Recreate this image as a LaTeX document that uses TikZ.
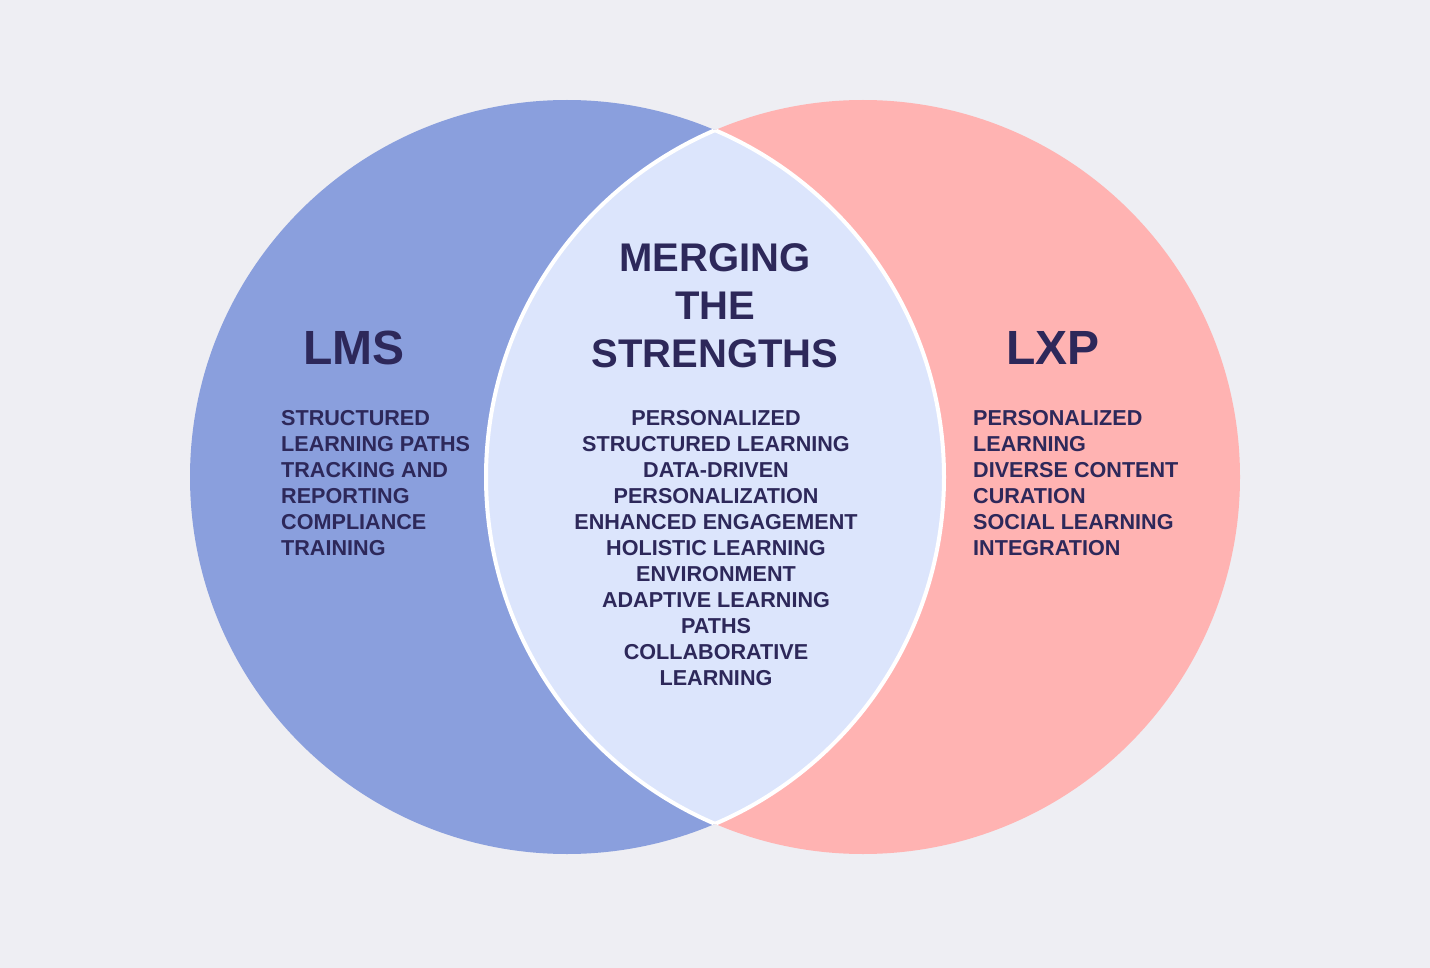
\documentclass[tikz,border=0pt]{standalone}
\usepackage{fontspec}
\setmainfont{Liberation Sans}
\usepackage{xcolor}
\definecolor{paper}{RGB}{238,238,243}
\definecolor{lmsblue}{RGB}{138,159,221}
\definecolor{lxppink}{RGB}{255,179,178}
\definecolor{lens}{RGB}{220,229,252}
\definecolor{ink}{RGB}{45,40,90}
\usepackage{tikz}
\usetikzlibrary{positioning}

\begin{document}
\begin{tikzpicture}[
  x=1pt, y=-1pt,
  set/.style={circle,draw=none,minimum size=754pt,inner sep=0pt},
  head/.style={font=\fontsize{48}{48}\selectfont\bfseries,color=ink,inner sep=0pt},
  title/.style={font=\fontsize{40}{48}\selectfont\bfseries,color=ink,align=center,inner sep=0pt},
  items/.style={font=\fontsize{21.6}{26}\selectfont\bfseries,color=ink,inner sep=0pt},
]
  \fill[paper] (0,0) rectangle (1430,968);
  \useasboundingbox (0,0) rectangle (1430,968);
  % the two sets
  \node[set,fill=lmsblue] (lms) at (567,477) {};
  \node[set,fill=lxppink] (lxp) at (863,477) {};
  % overlap
  \begin{scope}
    \clip (lms.center) circle (377pt);
    \fill[lens] (lxp.center) circle (377pt);
    \draw[white,line width=4pt] (lxp.center) circle (377pt);
  \end{scope}
  \begin{scope}
    \clip (lxp.center) circle (377pt);
    \draw[white,line width=4pt] (lms.center) circle (377pt);
  \end{scope}
  % labels
  \node[head,anchor=west] (lmsname) at (303,348) {LMS};
  \node[head,anchor=west] (lxpname) at (1006,348) {LXP};
  \node[title] (merge) at (715,306) {MERGING\\THE\\STRENGTHS};
  \node[items,anchor=west,align=left] (lmslist) at (281,483)
    {STRUCTURED\\LEARNING PATHS\\TRACKING AND\\REPORTING\\COMPLIANCE\\TRAINING};
  \node[items,anchor=west,align=left] (lxplist) at (973,483)
    {PERSONALIZED\\LEARNING\\DIVERSE CONTENT\\CURATION\\SOCIAL LEARNING\\INTEGRATION};
  \node[items,align=center] (mergelist) at (716,548)
    {PERSONALIZED\\STRUCTURED LEARNING\\DATA-DRIVEN\\PERSONALIZATION\\ENHANCED ENGAGEMENT\\HOLISTIC LEARNING\\ENVIRONMENT\\ADAPTIVE LEARNING\\PATHS\\COLLABORATIVE\\LEARNING};
\end{tikzpicture}
\end{document}
